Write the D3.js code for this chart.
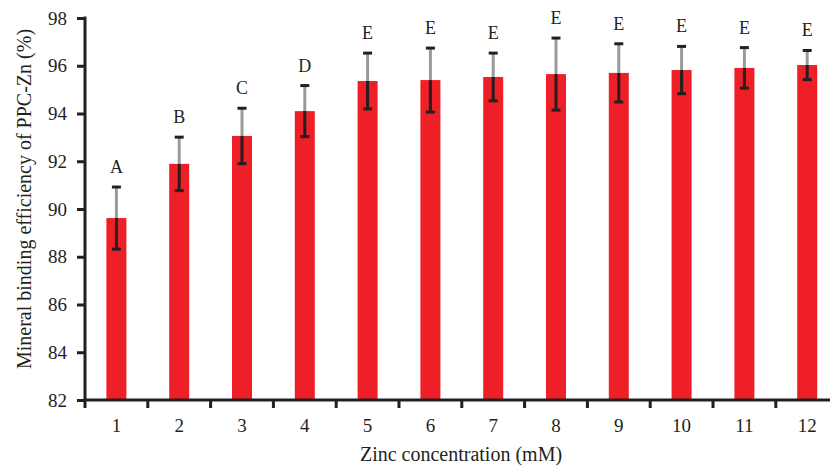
<!DOCTYPE html>
<html>
<head>
<meta charset="utf-8">
<script src="https://cdn.jsdelivr.net/npm/d3@7"></script>
<style>
  html, body { margin: 0; padding: 0; background: #fff; }
  svg { display: block; }
  text { font-family: "Liberation Serif", "DejaVu Serif", serif; fill: #231f20; }
</style>
</head>
<body>
<svg id="chart" width="830" height="466"></svg>
<script>
const categories = ["1","2","3","4","5","6","7","8","9","10","11","12"];
const values = [89.62, 91.89, 93.06, 94.10, 95.36, 95.40, 95.53, 95.65, 95.70, 95.82, 95.91, 96.03];
const errors = [1.30, 1.12, 1.16, 1.07, 1.17, 1.34, 1.00, 1.51, 1.22, 0.99, 0.85, 0.61];
const letters = ["A","B","C","D","E","E","E","E","E","E","E","E"];
const yTicks = [82, 84, 86, 88, 90, 92, 94, 96, 98];

const svg = d3.select("#chart");
const mLeft = 85, mTop = 18, mBottom = 400, step = 62.8;
const dark = "#231f20";
const tickFont = 19, titleFont = 20, letterFont = 18;

const x = d3.scaleBand().domain(categories).range([mLeft, mLeft + step * categories.length]).padding(0);
const y = d3.scaleLinear().domain([82, 98]).range([mBottom, mTop]);
const barW = 20;

// bars
svg.append("g").selectAll("rect").data(values).join("rect")
  .attr("x", (d, i) => x(categories[i]) + x.bandwidth() / 2 - barW / 2)
  .attr("y", d => y(d))
  .attr("width", barW)
  .attr("height", d => mBottom - y(d))
  .attr("fill", "#ee1f26");

// error bars
const eg = svg.append("g");
values.forEach((v, i) => {
  const cx = x(categories[i]) + x.bandwidth() / 2;
  const hi = y(v + errors[i]), lo = y(v - errors[i]), mid = y(v);
  eg.append("line").attr("x1", cx).attr("x2", cx).attr("y1", hi).attr("y2", mid)
    .attr("stroke", "#9a9a9a").attr("stroke-width", 3);
  eg.append("line").attr("x1", cx).attr("x2", cx).attr("y1", mid).attr("y2", lo)
    .attr("stroke", dark).attr("stroke-width", 3);
  [hi, lo].forEach(yy => {
    eg.append("line").attr("x1", cx - 4.5).attr("x2", cx + 4.5).attr("y1", yy).attr("y2", yy)
      .attr("stroke", dark).attr("stroke-width", 3);
  });
  eg.append("text").attr("x", cx).attr("y", hi - 14)
    .attr("text-anchor", "middle").attr("font-size", letterFont).text(letters[i]);
});

// y axis
const yAxis = svg.append("g").attr("transform", `translate(${mLeft},0)`)
  .call(d3.axisLeft(y).tickValues(yTicks).tickSize(8).tickPadding(10).tickFormat(d3.format("d")));
yAxis.select(".domain").attr("d", `M0,${mTop - 1.5}V${mBottom}`).attr("stroke", dark).attr("stroke-width", 3);
yAxis.selectAll(".tick line").attr("stroke", dark).attr("stroke-width", 3);
yAxis.selectAll(".tick text").attr("font-size", tickFont).attr("font-family", "Liberation Serif, serif").attr("fill", dark);

// x axis
const xAxis = svg.append("g").attr("transform", `translate(0,${mBottom})`)
  .call(d3.axisBottom(x).tickSize(0).tickPadding(19));
xAxis.select(".domain").attr("d", `M${mLeft - 1.5},0H${mLeft + step * categories.length}`).attr("stroke", dark).attr("stroke-width", 3);
xAxis.selectAll(".tick text").attr("font-size", tickFont).attr("font-family", "Liberation Serif, serif").attr("fill", dark);
// boundary ticks
const bounds = d3.range(categories.length + 1).map(i => mLeft + i * x.step());
xAxis.append("g").selectAll("line").data(bounds).join("line")
  .attr("x1", d => d).attr("x2", d => d).attr("y1", 0).attr("y2", 8)
  .attr("stroke", dark).attr("stroke-width", 3);

// titles
svg.append("text").attr("x", 461).attr("y", 461).attr("text-anchor", "middle")
  .attr("font-size", titleFont).text("Zinc concentration (mM)");
svg.append("text").attr("transform", "translate(31,199) rotate(-90)").attr("text-anchor", "middle")
  .attr("font-size", titleFont).text("Mineral binding efficiency of PPC-Zn (%)");
</script>
</body>
</html>
